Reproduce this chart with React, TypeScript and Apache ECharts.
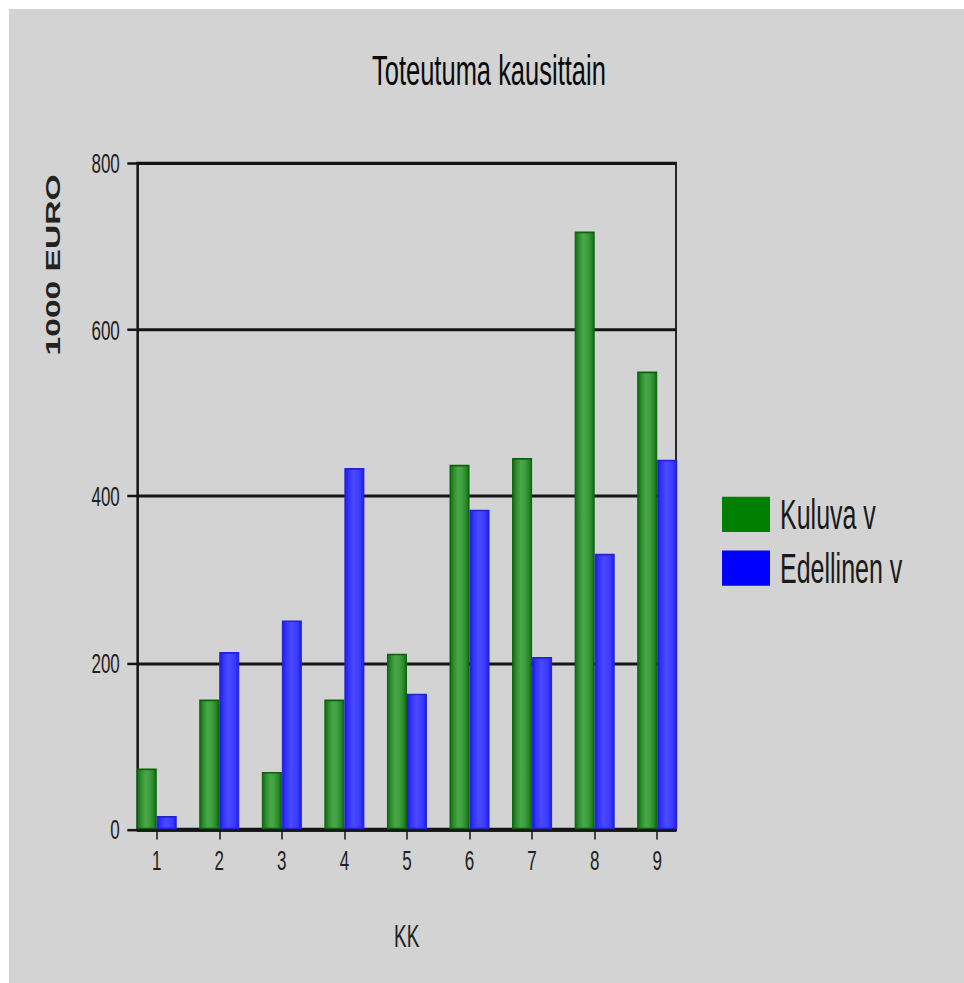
import React, { useEffect, useRef } from 'react';
import * as echarts from 'echarts';

const periods = [1, 2, 3, 4, 5, 6, 7, 8, 9];
const kuluva = [73, 156, 69, 156, 211, 438, 446, 718, 550];
const edellinen = [16, 213, 251, 434, 163, 384, 207, 331, 444];
const yTickMin = 0;
const yTickMax = 800;
const yTickStep = 200;
const seriesNames = ['Kuluva v', 'Edellinen v'];
const titleText = 'Toteutuma kausittain';
const yName = '1000 EURO';
const xName = 'KK';

const W = 960;
const H = 584;
const SY = 974 / 580;
const FONT = '"Liberation Sans", Arial, sans-serif';

export default function App() {
  const ref = useRef<HTMLDivElement>(null);
  useEffect(() => {
    if (!ref.current) return;
    const chart = echarts.init(ref.current, undefined, { renderer: 'svg', width: W, height: H });
    const greenGrad = new echarts.graphic.LinearGradient(0, 0, 1, 0, [
      { offset: 0, color: '#0c6a0c' },
      { offset: 0.18, color: '#2c8c2c' },
      { offset: 0.42, color: '#48a848' },
      { offset: 0.62, color: '#42a042' },
      { offset: 0.85, color: '#288828' },
      { offset: 1, color: '#0c6a0c' },
    ]);
    const blueGrad = new echarts.graphic.LinearGradient(0, 0, 1, 0, [
      { offset: 0, color: '#1c1ce0' },
      { offset: 0.2, color: '#3434ff' },
      { offset: 0.45, color: '#4a4aff' },
      { offset: 0.8, color: '#3a3aff' },
      { offset: 1, color: '#1c1ce0' },
    ]);
    chart.setOption({
      animation: false,
      backgroundColor: '#d3d3d3',
      title: {
        text: titleText,
        left: 363,
        top: 23,
        padding: 0,
        textStyle: { fontFamily: FONT, fontSize: 25.5, fontWeight: 'normal', color: '#0a0a0a' },
      },
      legend: {
        orient: 'vertical',
        left: 713,
        top: 288.5,
        padding: 0,
        itemWidth: 48,
        itemHeight: 21,
        itemGap: 7,
        icon: 'rect',
        textStyle: { fontFamily: FONT, fontSize: 25, color: '#1a1a1a', padding: [0, 0, 0, 5] },
        data: [
          { name: seriesNames[0], itemStyle: { color: '#008000', borderWidth: 0 } },
          { name: seriesNames[1], itemStyle: { color: '#0000ff', borderWidth: 0 } },
        ],
      },
      grid: {
        left: 128.3,
        top: 91.9,
        width: 538.7,
        height: 396.6,
        show: true,
        backgroundColor: 'transparent',
        borderColor: '#151515',
        borderWidth: 1.8,
      },
      xAxis: {
        type: 'value',
        min: 0.69,
        max: 9.3,
        name: xName,
        nameLocation: 'middle',
        nameGap: 54,
        nameTextStyle: { fontFamily: FONT, fontSize: 19, color: '#222' },
        axisLine: { show: true, lineStyle: { color: '#151515', width: 1.8 } },
        axisTick: { show: true, length: 6, customValues: periods, lineStyle: { color: '#151515', width: 1.5 } },
        axisLabel: {
          show: true,
          customValues: periods,
          margin: 10,
          fontFamily: FONT,
          fontSize: 17,
          color: '#222',
          formatter: (v: number) => String(Math.round(v)),
        },
        splitLine: { show: false },
      },
      yAxis: {
        type: 'value',
        min: yTickMin,
        max: yTickMax,
        interval: yTickStep,
        axisLine: { show: true, lineStyle: { color: '#151515', width: 1.8 } },
        axisTick: { show: true, inside: false, length: 10, lineStyle: { color: '#151515', width: 1.5 } },
        axisLabel: { margin: 17.5, fontFamily: FONT, fontSize: 17, color: '#222' },
        splitLine: { show: true, lineStyle: { color: '#151515', width: 1.8 } },
      },
      graphic: [
        {
          type: 'text',
          x: 44.5,
          y: 152.4,
          rotation: Math.PI / 2,
          style: {
            text: yName,
            fontFamily: FONT,
            fontSize: 20,
            fontWeight: 'bold',
            fill: '#222',
            textAlign: 'center',
            textVerticalAlign: 'middle',
          },
        },
      ],
      series: [
        {
          name: seriesNames[0],
          type: 'bar',
          barWidth: 20,
          barGap: '0%',
          data: periods.map((p, i) => [p, kuluva[i]]),
          itemStyle: { color: greenGrad, borderColor: '#0a620a', borderWidth: 1 },
        },
        {
          name: seriesNames[1],
          type: 'bar',
          barWidth: 20,
          barGap: '0%',
          data: periods.map((p, i) => [p, edellinen[i]]),
          itemStyle: { color: blueGrad, borderColor: '#2222d6', borderWidth: 1 },
        },
      ],
    });
    return () => chart.dispose();
  }, []);

  return (
    <div style={{ position: 'fixed', left: 9, top: 9, right: 0, bottom: 0, overflow: 'hidden', background: '#d3d3d3' }}>
      <div
        ref={ref}
        style={{ width: W, height: H, transform: `scaleY(${SY})`, transformOrigin: '0 0' }}
      />
    </div>
  );
}
